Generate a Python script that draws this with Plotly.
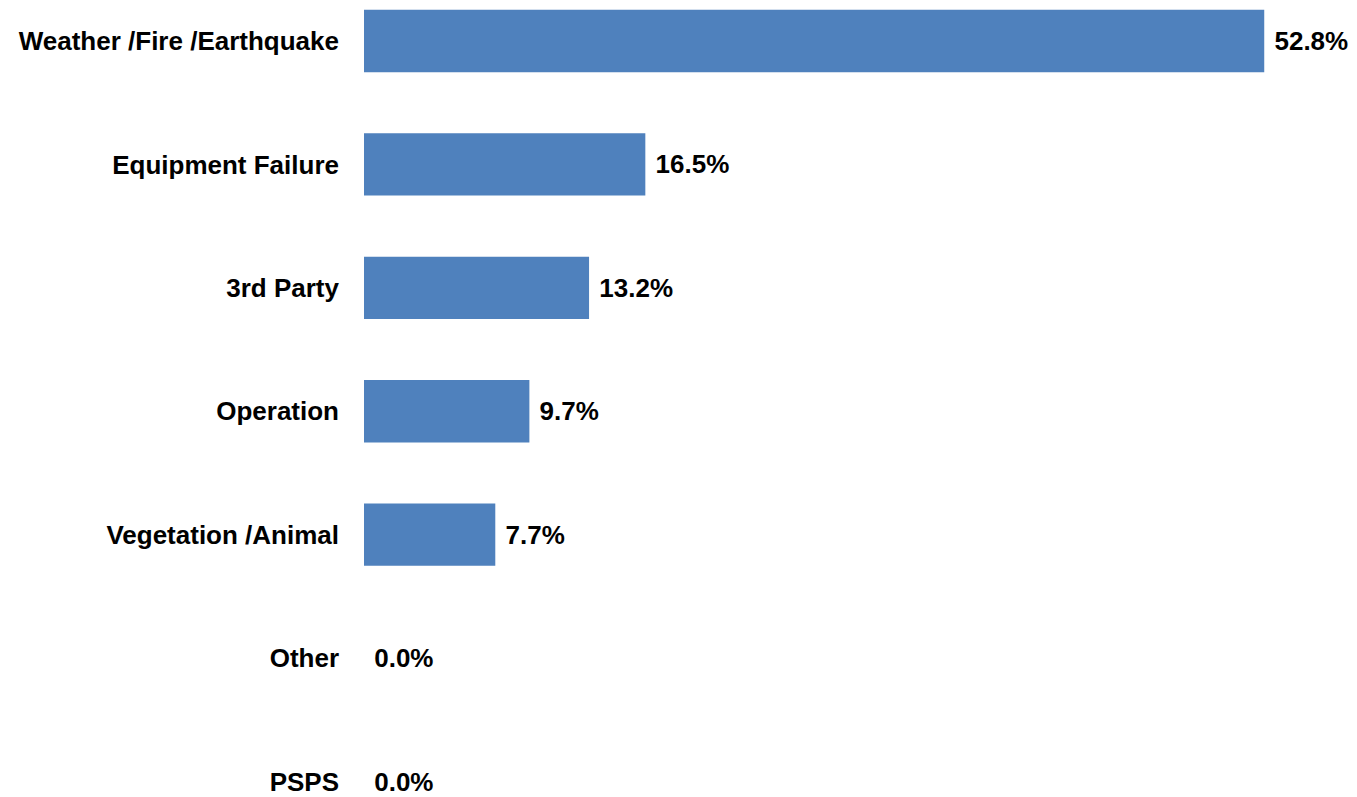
import plotly.graph_objects as go

categories = ["Weather /Fire /Earthquake", "Equipment Failure", "3rd Party", "Operation",
              "Vegetation /Animal", "Other", "PSPS"]
values = [52.8, 16.5, 13.2, 9.7, 7.7, 0.0, 0.0]

ROW = 125.0
TOP = 41.5

fig = go.Figure(go.Bar(
    y=categories, x=values, orientation="h",
    marker=dict(color="#4F81BD", line=dict(width=0)),
    text=[f"{v:.1f}%" for v in values],
    texttemplate=" %{text}",
    textposition="outside",
    cliponaxis=False,
    textfont=dict(family="Liberation Sans, Arial", size=26, color="black", weight="bold"),
))

fig.update_layout(
    width=1357, height=797,
    margin=dict(l=364, r=0, t=0, b=0),
    plot_bgcolor="white", paper_bgcolor="white",
    bargap=0.495,
    showlegend=False,
    xaxis=dict(range=[0, 993 / 17.05], visible=False, showgrid=False, zeroline=False),
    yaxis=dict(
        type="category", categoryorder="array", categoryarray=categories,
        range=[(797 - TOP) / ROW, -TOP / ROW],
        showgrid=False, zeroline=False, showline=False, ticks="",
        ticklabelstandoff=24,
        tickfont=dict(family="Liberation Sans, Arial", size=26, color="black", weight="bold"),
    ),
)

fig.write_html("out.html")
